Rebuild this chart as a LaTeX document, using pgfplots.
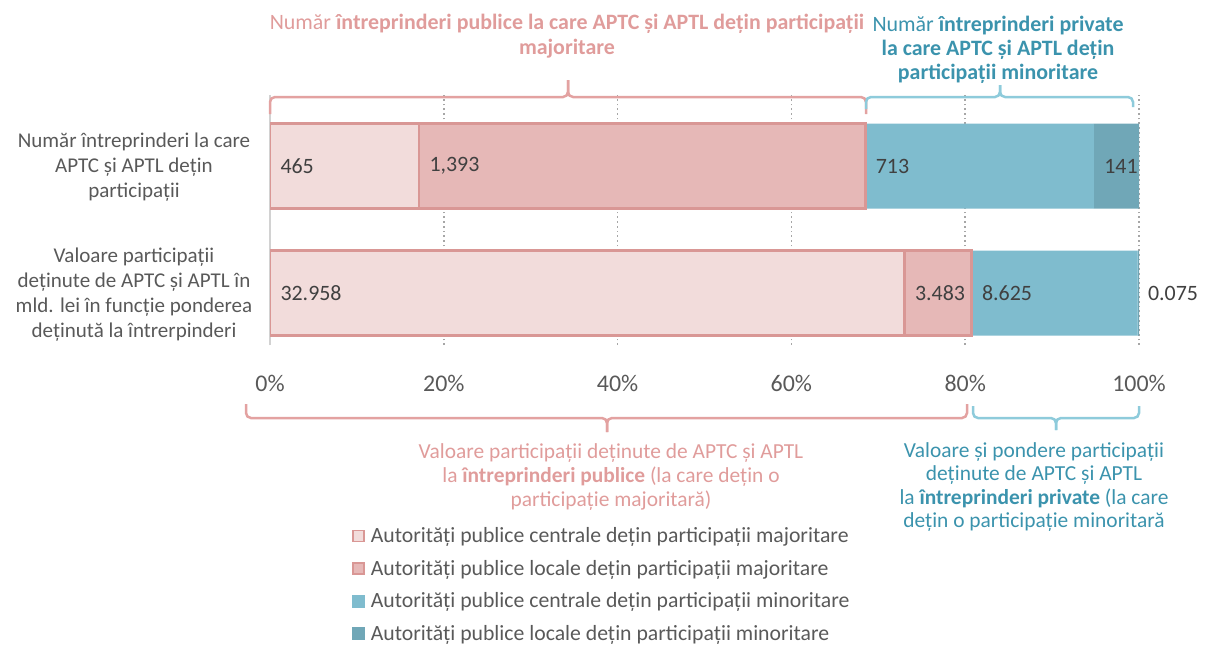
\documentclass[border=0pt]{standalone}
\usepackage{pgfplots}
\pgfplotsset{compat=1.18}
\usepackage{pgfplotstable}
\usepackage{fontspec}
\setmainfont{Carlito}
\definecolor{pinkA}{HTML}{F2DCDB}
\definecolor{pinkB}{HTML}{E6B8B7}
\definecolor{pinkE}{HTML}{D99795}
\definecolor{tealA}{HTML}{7FBCCE}
\definecolor{tealB}{HTML}{70A7B7}
\definecolor{pinkT}{HTML}{E09C9B}
\definecolor{tealT}{HTML}{3B93AD}
\definecolor{pinkBr}{HTML}{E3A2A1}
\definecolor{tealBr}{HTML}{8ECBDB}
\definecolor{txt}{HTML}{595959}
\definecolor{lab}{HTML}{404040}
\definecolor{grd}{HTML}{A6A6A6}

% shares of each bar (%), computed from the values shown
\pgfplotstableread{
y v1 v2 v3 v4
0 73.012 7.716 19.107 0.166
1 17.146 51.364 26.291 5.199
}\bars

% value labels, placed at the start of each segment
\pgfplotstableread{
x y label
0 1 465
17.146 1 {1,393}
68.510 1 713
94.801 1 141
0 0 32.958
73.012 0 3.483
80.727 0 8.625
99.834 0 0.075
}\labels

\begin{document}
\begin{tikzpicture}
\path[use as bounding box] (0,0) rectangle (1205bp,-646bp);
\begin{axis}[
  at={(270bp,-345bp)}, anchor=south west,
  scale only axis, width=869bp, height=250bp,
  xbar stacked, bar width=85bp,
  xmin=0, xmax=100, ymin=-0.409, ymax=1.559,
  axis lines*=left,
  x axis line style={draw=none},
  y axis line style={draw=gray!35, line width=1.5bp},
  major tick length=0pt,
  ytick={0,1},
  yticklabels={{Valoare participații\\deținute de APTC și APTL în\\mld. lei în funcție ponderea\\deținută la întrerpinderi},
               {Număr întreprinderi la care\\APTC și APTL dețin\\participații}},
  yticklabel style={font=\fontsize{21.1}{25}\selectfont, text=txt, align=center, anchor=center, xshift=-136bp, yshift=-1.5bp},
  xtick={0,20,40,60,80,100},
  xticklabels={0\%,20\%,40\%,60\%,80\%,100\%},
  xticklabel style={font=\fontsize{24}{28}\selectfont, text=txt, yshift=-27bp},
  xmajorgrids,
  major grid style={grd, line width=1.7bp, dash pattern=on 1.7bp off 3bp},
  legend style={at={(0.094,-0.722)}, anchor=north west, draw=none, fill=none,
    font=\fontsize{21.8}{26}\selectfont, text=txt, row sep=12bp, column sep=4bp, inner sep=0pt},
  legend cell align=left,
]
\addplot[fill=pinkA, draw=pinkE, line width=2.5bp,
  legend image code/.code={\draw[fill=pinkA, draw=pinkE, line width=1.8bp] (0bp,-5.5bp) rectangle (11bp,5.5bp);}]
  table[x=v1,y=y]{\bars};
\addplot[fill=pinkB, draw=pinkE, line width=2.5bp,
  legend image code/.code={\draw[fill=pinkB, draw=pinkE, line width=1.8bp] (0bp,-5.5bp) rectangle (11bp,5.5bp);}]
  table[x=v2,y=y]{\bars};
\addplot[fill=tealA, draw=none,
  legend image code/.code={\fill[tealA] (-1bp,-6.5bp) rectangle (12bp,6.5bp);}]
  table[x=v3,y=y]{\bars};
\addplot[fill=tealB, draw=none,
  legend image code/.code={\fill[tealB] (-1bp,-6.5bp) rectangle (12bp,6.5bp);}]
  table[x=v4,y=y]{\bars};
\legend{Autorități publice centrale dețin participații majoritare,
        Autorități publice locale dețin participații majoritare,
        Autorități publice centrale dețin participații minoritare,
        Autorități publice locale dețin participații minoritare}
\end{axis}
\begin{axis}[
  at={(270bp,-345bp)}, anchor=south west,
  scale only axis, width=869bp, height=250bp,
  xmin=0, xmax=100, ymin=-0.409, ymax=1.559,
  hide axis, clip=false,
]
\addplot[only marks, mark=none, nodes near coords, point meta=explicit symbolic,
  nodes near coords align=horizontal,
  nodes near coords style={anchor=west, xshift=7bp, font=\fontsize{22}{26}\selectfont, text=lab}]
  table[x=x,y=y,meta=label]{\labels};
\end{axis}

% braces
\begin{scope}[line width=2.5bp, rounded corners=5bp]
\draw[pinkBr] (270bp,-114bp) -- (270bp,-97bp) -- (568bp,-97bp) -- (568bp,-80bp);
\draw[pinkBr] (866bp,-114bp) -- (866bp,-97bp) -- (568bp,-97bp) -- (568bp,-80bp);
\draw[tealBr] (866bp,-109bp) -- (866bp,-97bp) -- (1000bp,-97bp) -- (1000bp,-85bp);
\draw[tealBr] (1133bp,-107bp) -- (1133bp,-97bp) -- (1000bp,-97bp) -- (1000bp,-85bp);
\draw[pinkBr] (246bp,-404bp) -- (246bp,-418bp) -- (607bp,-418bp) -- (607bp,-432bp);
\draw[pinkBr] (967bp,-404bp) -- (967bp,-418bp) -- (607bp,-418bp) -- (607bp,-432bp);
\draw[tealBr] (973bp,-406bp) -- (973bp,-418bp) -- (1056bp,-418bp) -- (1056bp,-430bp);
\draw[tealBr] (1139bp,-406bp) -- (1139bp,-418bp) -- (1056bp,-418bp) -- (1056bp,-430bp);
\end{scope}

% annotations
\node[align=center, text=pinkT, font=\fontsize{22}{25}\selectfont] at (567bp,-36bp)
  {Număr \textbf{întreprinderi publice la care APTC și APTL dețin participații}\\\textbf{majoritare}};
\node[align=center, text=tealT, font=\fontsize{22}{24}\selectfont] at (998bp,-50bp)
  {Număr \textbf{întreprinderi private}\\\textbf{la care APTC și APTL dețin}\\\textbf{participații minoritare}};
\node[align=center, text=pinkT, font=\fontsize{21.5}{24}\selectfont] at (611bp,-477bp)
  {Valoare participații deținute de APTC și APTL\\la \textbf{întreprinderi publice} (la care dețin o\\participație majoritară)};
\node[align=center, text=tealT, font=\fontsize{21.5}{23.7}\selectfont] at (1034bp,-487bp)
  {Valoare și pondere participații\\deținute de APTC și APTL\\la \textbf{întreprinderi private} (la care\\dețin o participație minoritară};
\end{tikzpicture}
\end{document}
